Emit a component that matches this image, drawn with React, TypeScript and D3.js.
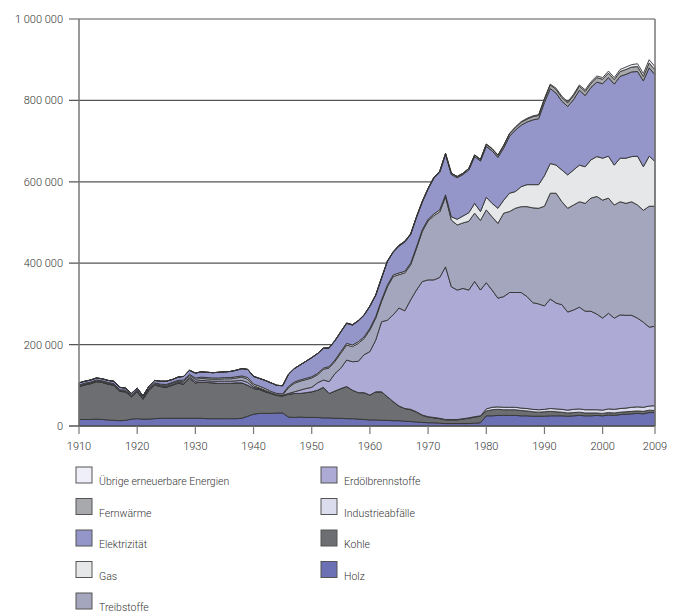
import React from 'react';
import * as d3 from 'd3';

// Endenergieverbrauch nach Energieträgern, in 1000 TJ, 1910–2009
const years = d3.range(1910, 2010);

const holz = [
  16, 16, 16, 17, 16, 15, 14, 13, 14, 17,
  18, 17, 17, 18, 19, 19, 19, 19, 19, 19,
  19, 19, 18, 18, 18, 18, 18, 18, 19, 24,
  29, 31, 31, 31, 32, 32, 22, 21, 22, 21,
  21, 21, 20, 20, 19, 19, 18, 18, 17, 16,
  15, 15, 14, 14, 13, 13, 12, 11, 10, 9,
  8, 8, 7, 6, 6, 6, 6, 6, 7, 8,
  25, 25, 26, 26, 26, 26, 25, 25, 24, 24,
  24, 25, 25, 25, 24, 25, 26, 25, 25, 26,
  25, 27, 26, 28, 29, 30, 31, 30, 33, 33,
];
const kohle = [
  81, 85, 88, 92, 91, 88, 86, 72, 70, 55,
  66, 49, 71, 83, 78, 76, 81, 86, 84, 98,
  87, 89, 89, 88, 87, 87, 87, 88, 87, 76,
  63, 59, 53, 49, 43, 42, 56, 59, 58, 61,
  63, 67, 75, 60, 67, 73, 79, 70, 65, 66,
  61, 69, 70, 58, 47, 36, 31, 29, 24, 17,
  14, 12, 11, 9, 9, 9, 11, 13, 15, 16,
  12, 15, 15, 14, 14, 14, 13, 12, 11, 10,
  11, 11, 10, 9, 8, 8, 8, 7, 7, 6,
  6, 6, 6, 6, 6, 6, 6, 6, 6, 5,
];
const industrie = [
  0, 0, 0, 0, 0, 0, 0, 0, 0, 0,
  0, 0, 0, 0, 0, 0, 0, 0, 0, 0,
  0, 0, 0, 0, 0, 0, 0, 0, 0, 0,
  0, 0, 0, 0, 0, 0, 0, 0, 0, 0,
  0, 0, 0, 0, 0, 0, 0, 0, 0, 0,
  0, 0, 0, 0, 0, 0, 0, 1, 1, 1,
  1, 1, 1, 1, 1, 1, 1, 1, 1, 1,
  5, 6, 6, 6, 6, 6, 6, 6, 6, 6,
  6, 7, 7, 7, 7, 8, 8, 8, 8, 8,
  8, 9, 9, 9, 9, 10, 10, 10, 10, 12,
];
const erdoel = [
  1, 1, 1, 1, 1, 1, 1, 1, 1, 1,
  1, 1, 1, 1, 2, 2, 2, 2, 3, 3,
  4, 4, 4, 4, 5, 5, 5, 5, 6, 7,
  3, 2, 2, 1, 1, 1, 2, 4, 8, 10,
  11, 18, 18, 29, 43, 50, 65, 70, 77, 93,
  107, 127, 172, 188, 213, 241, 240, 269, 299, 328,
  336, 338, 346, 375, 326, 318, 320, 314, 332, 309,
  310, 288, 267, 272, 282, 282, 284, 275, 262, 260,
  254, 269, 260, 257, 241, 244, 250, 242, 242, 235,
  226, 235, 224, 230, 228, 226, 218, 209, 194, 195,
];
const treib = [
  1, 1, 1, 1, 1, 1, 1, 1, 1, 1,
  1, 1, 1, 2, 2, 3, 3, 3, 4, 4,
  5, 5, 5, 5, 5, 6, 6, 7, 8, 8,
  4, 2, 2, 1, 1, 1, 14, 21, 22, 22,
  23, 20, 26, 34, 30, 37, 37, 37, 44, 40,
  53, 54, 50, 82, 94, 82, 93, 86, 102, 123,
  145, 158, 161, 172, 164, 160, 161, 169, 168, 171,
  179, 180, 184, 205, 199, 207, 211, 221, 233, 235,
  245, 260, 270, 253, 255, 258, 259, 265, 278, 289,
  290, 283, 278, 278, 275, 279, 278, 275, 297, 295,
];
const gas = [
  2, 2, 2, 2, 2, 2, 2, 2, 2, 2,
  2, 2, 2, 2, 2, 2, 2, 2, 3, 3,
  3, 3, 3, 3, 3, 3, 3, 3, 3, 4,
  4, 4, 4, 3, 3, 3, 3, 3, 3, 3,
  3, 3, 3, 3, 3, 4, 4, 4, 4, 4,
  4, 4, 4, 4, 4, 4, 4, 4, 4, 4,
  4, 4, 5, 5, 8, 14, 17, 21, 24, 22,
  31, 33, 37, 32, 45, 41, 49, 54, 57, 58,
  75, 73, 69, 78, 82, 86, 90, 90, 94, 98,
  103, 103, 98, 107, 111, 111, 120, 107, 123, 110,
];
const elektr = [
  5, 5, 5, 5, 5, 5, 6, 6, 5, 4,
  5, 4, 5, 6, 7, 8, 7, 8, 9, 10,
  12, 13, 13, 13, 14, 14, 15, 16, 18, 20,
  19, 19, 20, 21, 20, 20, 30, 33, 37, 42,
  47, 49, 49, 46, 48, 48, 49, 49, 51, 53,
  54, 52, 53, 58, 56, 66, 72, 70, 72, 68,
  74, 88, 92, 99, 104, 102, 102, 105, 115, 124,
  125, 129, 125, 128, 140, 151, 151, 154, 159, 162,
  180, 184, 177, 169, 168, 173, 184, 175, 178, 183,
  183, 193, 199, 201, 206, 208, 208, 211, 217, 213,
];
const fernw = [
  0, 0, 0, 0, 0, 0, 0, 0, 0, 0,
  0, 0, 0, 0, 0, 0, 0, 0, 0, 0,
  0, 0, 0, 0, 0, 0, 0, 0, 0, 0,
  0, 0, 0, 0, 0, 0, 0, 0, 0, 0,
  0, 0, 0, 0, 0, 1, 1, 1, 1, 1,
  1, 1, 1, 1, 1, 2, 2, 2, 2, 2,
  2, 2, 3, 3, 3, 3, 3, 4, 4, 4,
  5, 5, 5, 6, 6, 6, 7, 7, 8, 8,
  8, 9, 9, 9, 9, 10, 10, 10, 10, 11,
  11, 11, 11, 12, 12, 12, 12, 11, 12, 12,
];
const uebrige = [
  0, 0, 0, 0, 0, 0, 0, 0, 0, 0,
  0, 0, 0, 0, 0, 0, 0, 0, 0, 0,
  0, 0, 0, 0, 0, 0, 0, 0, 0, 0,
  0, 0, 0, 0, 0, 0, 0, 0, 0, 0,
  0, 0, 0, 0, 0, 0, 0, 0, 0, 0,
  0, 0, 0, 0, 0, 0, 0, 0, 0, 0,
  0, 0, 0, 0, 0, 0, 0, 0, 0, 0,
  1, 1, 1, 1, 1, 2, 2, 2, 2, 2,
  2, 2, 3, 3, 3, 3, 3, 4, 4, 4,
  4, 5, 5, 5, 6, 6, 7, 7, 8, 8,
];

const xTicks = [1910, 1920, 1930, 1940, 1950, 1960, 1970, 1980, 1990, 2000, 2009];
const yTicks = [0, 200000, 400000, 600000, 800000, 1000000];

// stack order bottom -> top
const keys = ['holz', 'kohle', 'industrie', 'erdoel', 'treib', 'gas', 'elektr', 'fernw', 'uebrige'];
const series: Record<string, number[]> = { holz, kohle, industrie, erdoel, treib, gas, elektr, fernw, uebrige };
const names: Record<string, string> = {
  uebrige: 'Übrige erneuerbare Energien',
  fernw: 'Fernwärme',
  elektr: 'Elektrizität',
  gas: 'Gas',
  treib: 'Treibstoffe',
  erdoel: 'Erdölbrennstoffe',
  industrie: 'Industrieabfälle',
  kohle: 'Kohle',
  holz: 'Holz',
};
const colors: Record<string, string> = {
  holz: '#6c70b5',
  kohle: '#6d6e71',
  industrie: '#dcdcef',
  erdoel: '#adabd6',
  treib: '#a4a6bd',
  gas: '#e6e7e8',
  elektr: '#9495c9',
  fernw: '#a7a9ac',
  uebrige: '#efeff9',
};
const legendCols = [
  ['uebrige', 'fernw', 'elektr', 'gas', 'treib'],
  ['erdoel', 'industrie', 'kohle', 'holz'],
];

const W = 680;
const H = 615;
const left = 79;
const right = 655;
const top = 19;
const bottom = 426;
const font = 'Roboto, "Noto Sans", sans-serif';

const fmt = (v: number) => d3.format(',')(v).replace(/,/g, '\u00a0');

export default function App() {
  const rows = years.map((yr, i) => {
    const r: any = { year: yr };
    keys.forEach(k => { r[k] = series[k][i] * 1000; });
    return r;
  });
  const stacked = d3.stack<any>().keys(keys)(rows);

  const x = d3.scaleLinear().domain([1910, 2009]).range([left, right]);
  const y = d3.scaleLinear().domain([0, 1000000]).range([bottom, top]);

  const area = d3.area<any>()
    .x(d => x(d.data.year))
    .y0(d => y(d[0]))
    .y1(d => y(d[1]))
    .curve(d3.curveLinear);

  return (
    <svg width={W} height={H} style={{ position: 'absolute', left: 0, top: 0, background: '#fff' }}
      fontFamily={font} fontWeight={300}>
      {/* grid lines */}
      {yTicks.filter(t => t > 0).map(t => (
        <line key={t} x1={left - 10} x2={right} y1={y(t)} y2={y(t)} stroke="#555" strokeWidth={1.2} />
      ))}
      {/* stacked areas */}
      {stacked.map(s => (
        <path key={s.key} d={area(s) || ''} fill={colors[s.key]} stroke="#333"
          strokeWidth={0.9} strokeLinejoin="round" />
      ))}
      {/* axes */}
      <line x1={left} x2={left} y1={top} y2={bottom} stroke="#777" strokeWidth={1.5} />
      <line x1={right} x2={right} y1={top} y2={bottom} stroke="#777" strokeWidth={1.5} />
      <line x1={left - 10} x2={right} y1={bottom} y2={bottom} stroke="#555" strokeWidth={1.5} />
      {xTicks.map(t => (
        <g key={t}>
          <line x1={x(t)} x2={x(t)} y1={bottom} y2={bottom + 8} stroke="#777" strokeWidth={1.2} />
          <text x={x(t)} y={bottom + 24} textAnchor="middle" fontSize={11} fill="#333">{t}</text>
        </g>
      ))}
      {yTicks.map(t => (
        <text key={t} x={left - 16} y={y(t) + 4} textAnchor="end" fontSize={11} fill="#333">{fmt(t)}</text>
      ))}
      {/* legend */}
      {legendCols.map((col, ci) => col.map((k, ri) => {
        const lx = ci === 0 ? 76 : 321;
        const ly = 467 + ri * 31.5;
        return (
          <g key={k}>
            <rect x={lx} y={ly} width={16} height={16} fill={colors[k]} stroke="#555" strokeWidth={1} />
            <text x={lx + 23} y={ly + 18} fontSize={10.5} fill="#333">{names[k]}</text>
          </g>
        );
      }))}
    </svg>
  );
}
